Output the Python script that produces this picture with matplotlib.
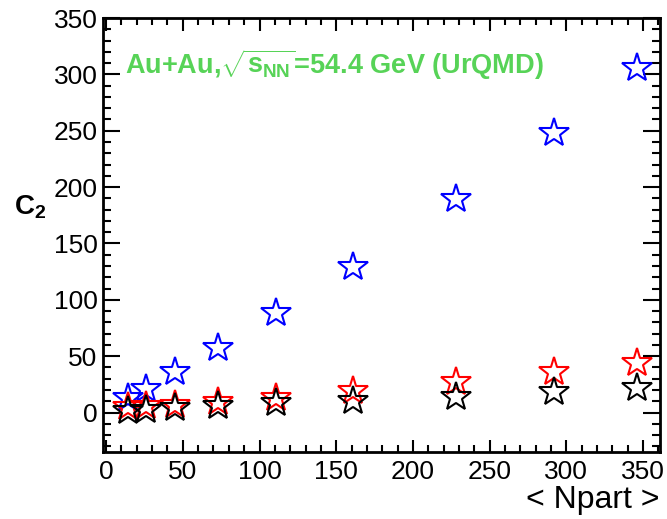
import matplotlib
matplotlib.use("Agg")
import matplotlib.pyplot as plt
from matplotlib.ticker import MultipleLocator

plt.rcParams['font.family'] = ['Liberation Sans', 'DejaVu Sans']
plt.rcParams['mathtext.fontset'] = 'custom'
plt.rcParams['mathtext.rm'] = 'Liberation Sans:bold'
plt.rcParams['mathtext.it'] = 'Liberation Sans:bold'
plt.rcParams['mathtext.bf'] = 'Liberation Sans:bold'

# 數據 (UrQMD, Au+Au 54.4 GeV)
npart = [14, 26, 45, 73, 111, 161, 228, 292, 346]
c2_blue = [13, 21, 36, 57, 88, 129, 189, 248, 306]
c2_red = [5, 6, 7, 9, 13, 19, 27, 36, 44]
c2_black = [1, 2.5, 4, 5.5, 8.5, 10, 14, 18, 22]

fig = plt.figure(figsize=(6.67, 5.19), dpi=100)
ax = fig.add_axes([0.1544, 0.1291, 0.9895 - 0.1544, 0.9653 - 0.1291])

# 繪製星號
style = dict(linestyle='none', marker='*', markersize=22,
             markerfacecolor='none', markeredgewidth=1.5)
ax.plot(npart, c2_blue, markeredgecolor='blue', **style)
ax.plot(npart, c2_red, markeredgecolor='red', **style)
ax.plot(npart, c2_black, markeredgecolor='black', **style)

ax.set_xlim(-2, 361)
ax.set_ylim(-35, 350)
ax.xaxis.set_major_locator(MultipleLocator(50))
ax.xaxis.set_minor_locator(MultipleLocator(10))
ax.yaxis.set_major_locator(MultipleLocator(50))
ax.yaxis.set_minor_locator(MultipleLocator(10))

for s in ax.spines.values():
    s.set_linewidth(2)
ax.tick_params(which='both', direction='in', top=True, right=True, width=1.5,
               labelsize=19)
ax.tick_params(axis='x', which='major', length=9, pad=6)
ax.tick_params(axis='x', which='minor', length=5)
ax.tick_params(axis='y', which='major', length=12, pad=4)
ax.tick_params(axis='y', which='minor', length=6)

# 圖表設置
ax.text(0.04, 0.892, r'Au+Au,$\sqrt{s_{NN}}$=54.4 GeV (UrQMD)',
        transform=ax.transAxes, color='#57d357', fontsize=19.5,
        fontweight='bold', va='center', ha='left')
fig.text(30 / 667, 1 - 207 / 519, r'C$_2$', fontsize=20, fontweight='bold',
         ha='center', va='center')
fig.text(660 / 667, 1 - 500 / 519, '< Npart >', fontsize=23,
         ha='right', va='center')

fig.savefig('out.png', dpi=100)
